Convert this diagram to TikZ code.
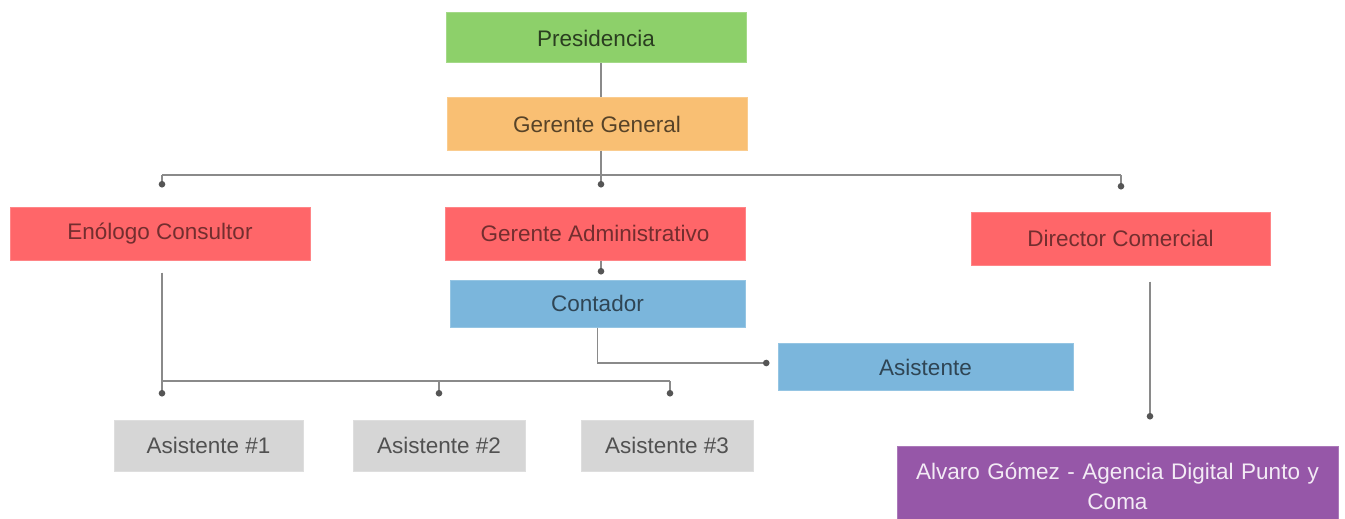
\documentclass[tikz,border=0pt]{standalone}
\usepackage{fontspec}
\setmainfont{Liberation Sans}
\usetikzlibrary{arrows.meta}
\definecolor{cgreen}{HTML}{8DD06A}
\definecolor{corange}{HTML}{F9BF73}
\definecolor{cred}{HTML}{FF6669}
\definecolor{cblue}{HTML}{7BB6DC}
\definecolor{cgray}{HTML}{D6D6D6}
\definecolor{cpurple}{HTML}{9657A8}
\definecolor{cline}{HTML}{8A8A8A}
\definecolor{cdot}{HTML}{555555}
\begin{document}
\begin{tikzpicture}[x=1pt,y=-1pt,
  box/.style={draw=#1!80!white, line width=1pt, fill=#1, minimum width=300, minimum height=52, inner sep=0pt,
    font=\fontsize{22.5}{27}\selectfont},
  wire/.style={draw=cline, line width=1.6pt},
  conn/.style={wire, -{Circle[length=6.5pt,width=6.5pt,fill=cdot,color=cdot]}},
]
\useasboundingbox (0,0) rectangle (1345,519);
\fill[white] (0,0) rectangle (1345,519);
% nodes
\node[box=cgreen, text=black!70!cgreen, minimum width=300, minimum height=50] (pres) at (596,38) {Presidencia};
\node[box=corange, text=black!65!corange, minimum width=300, minimum height=52] (gg) at (597,124) {Gerente General};
\node[box=cred, text=black!55!cred, minimum width=300, minimum height=53] (eno) at (160,233.5) {Enólogo Consultor};
\node[box=cred, text=black!55!cred, minimum width=300, minimum height=53] (ga) at (595,233.5) {Gerente Administrativo};
\node[box=cred, text=black!55!cred, minimum width=299, minimum height=53] (dc) at (1120.5,238.5) {Director Comercial};
\node[box=cblue, text=black!62!cblue, minimum width=295, minimum height=47] (cont) at (597.5,303.5) {Contador};
\node[box=cblue, text=black!62!cblue, minimum width=295, minimum height=47] (asis) at (925.5,367) {Asistente};
\node[box=cgray, text=black!62!cgray, minimum width=189, minimum height=51] (a1) at (208.5,445.5) {Asistente \#1};
\node[box=cgray, text=black!62!cgray, minimum width=172, minimum height=51] (a2) at (439,445.5) {Asistente \#2};
\node[box=cgray, text=black!62!cgray, minimum width=172, minimum height=51] (a3) at (667,445.5) {Asistente \#3};
\node[box=cpurple, text=white!88!cpurple, minimum width=441, minimum height=80, text width=432, align=center,
  font=\fontsize{22.5}{30}\selectfont] (alv) at (1117.5,486) {Alvaro Gómez - Agencia Digital Punto y\\Coma};
% coordinates
\coordinate (busL) at (162,175);
\coordinate (busR) at (1121,175);
\coordinate (busM) at (601,175);
\coordinate (b2L) at (162,381);
\coordinate (b2R) at (670,381);
\coordinate (dcx) at (1150,0);
% connectors
\draw[wire] (pres.south -| busM) -- (gg.north -| busM);
\draw[wire] (gg.south -| busM) -- (busM);
\draw[wire] (busL) -- (busR);
\draw[conn, shorten >=19] (busL) -- (busL |- eno.north);
\draw[conn, shorten >=19] (busM) -- (busM |- ga.north);
\draw[conn, shorten >=22] (busR) -- (busR |- dc.north);
\draw[conn, shorten >=5] (ga.south -| busM) -- (cont.north -| busM);
\draw[conn, shorten >=8] (cont.south) -- ([yshift=4]cont.south |- asis.west) -- ([yshift=4]asis.west);
\draw[wire, shorten <=12] (b2L |- eno.south) -- (b2L) -- (b2R);
\draw[conn, shorten >=23] (b2L) -- (b2L |- a1.north);
\draw[conn, shorten >=23] (a2.north |- b2L) -- (a2.north);
\draw[conn, shorten >=23] (b2R) -- (b2R |- a3.north);
\draw[conn, shorten <=16, shorten >=26] (dc.south -| dcx) -- (alv.north -| dcx);
\end{tikzpicture}
\end{document}
